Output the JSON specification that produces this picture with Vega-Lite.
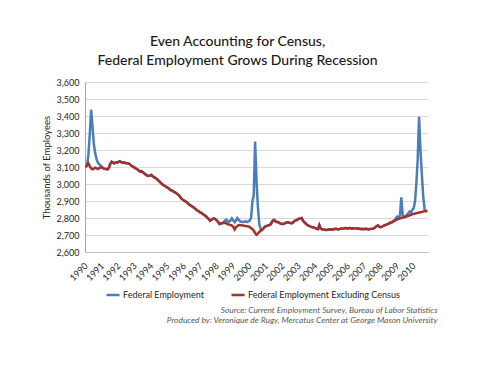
{
  "$schema": "https://vega.github.io/schema/vega-lite/v6.json",
  "width": 343,
  "height": 170,
  "autosize": {"type": "none"},
  "padding": {"left": 85, "top": 82, "right": 52, "bottom": 119},
  "background": "white",
  "config": {"font": "Lato", "view": {"stroke": null}},
  "title": {
    "text": ["Even Accounting for Census,", "Federal Employment Grows During Recession"],
    "fontSize": 14,
    "fontWeight": 500,
    "color": "#1a1a1a",
    "lineHeight": 19,
    "offset": 10,
    "anchor": "middle",
    "dx": -19
  },
  "datasets": {
    "fed": [
      {"date":"1990-01","value":3100},{"date":"1990-02","value":3115},{"date":"1990-03","value":3170},{"date":"1990-04","value":3290},{"date":"1990-05","value":3437},{"date":"1990-06","value":3340},{"date":"1990-07","value":3235},{"date":"1990-08","value":3180},{"date":"1990-09","value":3145},{"date":"1990-10","value":3125},{"date":"1990-11","value":3115},{"date":"1990-12","value":3108},
      {"date":"1991-01","value":3100},{"date":"1991-02","value":3092},{"date":"1991-03","value":3090},{"date":"1991-04","value":3088},{"date":"1991-05","value":3086},{"date":"1991-06","value":3095},{"date":"1991-07","value":3118},{"date":"1991-08","value":3131},{"date":"1991-09","value":3126},{"date":"1991-10","value":3122},{"date":"1991-11","value":3128},{"date":"1991-12","value":3126},
      {"date":"1992-01","value":3130},{"date":"1992-02","value":3134},{"date":"1992-03","value":3128},{"date":"1992-04","value":3125},{"date":"1992-05","value":3127},{"date":"1992-06","value":3123},{"date":"1992-07","value":3122},{"date":"1992-08","value":3122},{"date":"1992-09","value":3118},{"date":"1992-10","value":3110},{"date":"1992-11","value":3106},{"date":"1992-12","value":3100},
      {"date":"1993-01","value":3095},{"date":"1993-02","value":3090},{"date":"1993-03","value":3085},{"date":"1993-04","value":3078},{"date":"1993-05","value":3072},{"date":"1993-06","value":3075},{"date":"1993-07","value":3068},{"date":"1993-08","value":3062},{"date":"1993-09","value":3055},{"date":"1993-10","value":3050},{"date":"1993-11","value":3048},{"date":"1993-12","value":3050},
      {"date":"1994-01","value":3053},{"date":"1994-02","value":3046},{"date":"1994-03","value":3040},{"date":"1994-04","value":3036},{"date":"1994-05","value":3030},{"date":"1994-06","value":3022},{"date":"1994-07","value":3015},{"date":"1994-08","value":3006},{"date":"1994-09","value":2998},{"date":"1994-10","value":2993},{"date":"1994-11","value":2988},{"date":"1994-12","value":2983},
      {"date":"1995-01","value":2978},{"date":"1995-02","value":2972},{"date":"1995-03","value":2965},{"date":"1995-04","value":2962},{"date":"1995-05","value":2958},{"date":"1995-06","value":2952},{"date":"1995-07","value":2948},{"date":"1995-08","value":2942},{"date":"1995-09","value":2935},{"date":"1995-10","value":2925},{"date":"1995-11","value":2915},{"date":"1995-12","value":2908},
      {"date":"1996-01","value":2902},{"date":"1996-02","value":2898},{"date":"1996-03","value":2893},{"date":"1996-04","value":2885},{"date":"1996-05","value":2878},{"date":"1996-06","value":2873},{"date":"1996-07","value":2868},{"date":"1996-08","value":2862},{"date":"1996-09","value":2855},{"date":"1996-10","value":2849},{"date":"1996-11","value":2843},{"date":"1996-12","value":2838},
      {"date":"1997-01","value":2832},{"date":"1997-02","value":2828},{"date":"1997-03","value":2822},{"date":"1997-04","value":2816},{"date":"1997-05","value":2810},{"date":"1997-06","value":2802},{"date":"1997-07","value":2795},{"date":"1997-08","value":2784},{"date":"1997-09","value":2790},{"date":"1997-10","value":2795},{"date":"1997-11","value":2798},{"date":"1997-12","value":2792},
      {"date":"1998-01","value":2785},{"date":"1998-02","value":2775},{"date":"1998-03","value":2765},{"date":"1998-04","value":2768},{"date":"1998-05","value":2770},{"date":"1998-06","value":2775},{"date":"1998-07","value":2785},{"date":"1998-08","value":2790},{"date":"1998-09","value":2780},{"date":"1998-10","value":2778},{"date":"1998-11","value":2786},{"date":"1998-12","value":2798},
      {"date":"1999-01","value":2785},{"date":"1999-02","value":2775},{"date":"1999-03","value":2785},{"date":"1999-04","value":2800},{"date":"1999-05","value":2790},{"date":"1999-06","value":2780},{"date":"1999-07","value":2778},{"date":"1999-08","value":2776},{"date":"1999-09","value":2778},{"date":"1999-10","value":2780},{"date":"1999-11","value":2776},{"date":"1999-12","value":2780},
      {"date":"2000-01","value":2785},{"date":"2000-02","value":2800},{"date":"2000-03","value":2895},{"date":"2000-04","value":2935},{"date":"2000-05","value":3250},{"date":"2000-06","value":3020},{"date":"2000-07","value":2870},{"date":"2000-08","value":2765},{"date":"2000-09","value":2735},{"date":"2000-10","value":2729},{"date":"2000-11","value":2738},{"date":"2000-12","value":2748},
      {"date":"2001-01","value":2752},{"date":"2001-02","value":2755},{"date":"2001-03","value":2758},{"date":"2001-04","value":2760},{"date":"2001-05","value":2772},{"date":"2001-06","value":2785},{"date":"2001-07","value":2788},{"date":"2001-08","value":2780},{"date":"2001-09","value":2776},{"date":"2001-10","value":2775},{"date":"2001-11","value":2770},{"date":"2001-12","value":2766},
      {"date":"2002-01","value":2765},{"date":"2002-02","value":2766},{"date":"2002-03","value":2770},{"date":"2002-04","value":2774},{"date":"2002-05","value":2775},{"date":"2002-06","value":2772},{"date":"2002-07","value":2770},{"date":"2002-08","value":2769},{"date":"2002-09","value":2776},{"date":"2002-10","value":2784},{"date":"2002-11","value":2786},{"date":"2002-12","value":2790},
      {"date":"2003-01","value":2796},{"date":"2003-02","value":2798},{"date":"2003-03","value":2800},{"date":"2003-04","value":2785},{"date":"2003-05","value":2775},{"date":"2003-06","value":2768},{"date":"2003-07","value":2760},{"date":"2003-08","value":2755},{"date":"2003-09","value":2752},{"date":"2003-10","value":2748},{"date":"2003-11","value":2746},{"date":"2003-12","value":2745},
      {"date":"2004-01","value":2740},{"date":"2004-02","value":2736},{"date":"2004-03","value":2735},{"date":"2004-04","value":2758},{"date":"2004-05","value":2737},{"date":"2004-06","value":2733},{"date":"2004-07","value":2732},{"date":"2004-08","value":2731},{"date":"2004-09","value":2730},{"date":"2004-10","value":2731},{"date":"2004-11","value":2733},{"date":"2004-12","value":2731},
      {"date":"2005-01","value":2734},{"date":"2005-02","value":2733},{"date":"2005-03","value":2735},{"date":"2005-04","value":2736},{"date":"2005-05","value":2735},{"date":"2005-06","value":2733},{"date":"2005-07","value":2736},{"date":"2005-08","value":2738},{"date":"2005-09","value":2737},{"date":"2005-10","value":2739},{"date":"2005-11","value":2741},{"date":"2005-12","value":2740},
      {"date":"2006-01","value":2738},{"date":"2006-02","value":2741},{"date":"2006-03","value":2740},{"date":"2006-04","value":2738},{"date":"2006-05","value":2740},{"date":"2006-06","value":2739},{"date":"2006-07","value":2738},{"date":"2006-08","value":2739},{"date":"2006-09","value":2737},{"date":"2006-10","value":2735},{"date":"2006-11","value":2736},{"date":"2006-12","value":2734},
      {"date":"2007-01","value":2735},{"date":"2007-02","value":2736},{"date":"2007-03","value":2735},{"date":"2007-04","value":2733},{"date":"2007-05","value":2735},{"date":"2007-06","value":2736},{"date":"2007-07","value":2737},{"date":"2007-08","value":2740},{"date":"2007-09","value":2745},{"date":"2007-10","value":2752},{"date":"2007-11","value":2756},{"date":"2007-12","value":2748},
      {"date":"2008-01","value":2746},{"date":"2008-02","value":2750},{"date":"2008-03","value":2754},{"date":"2008-04","value":2758},{"date":"2008-05","value":2761},{"date":"2008-06","value":2764},{"date":"2008-07","value":2768},{"date":"2008-08","value":2772},{"date":"2008-09","value":2775},{"date":"2008-10","value":2782},{"date":"2008-11","value":2787},{"date":"2008-12","value":2798},
      {"date":"2009-01","value":2808},{"date":"2009-02","value":2800},{"date":"2009-03","value":2815},{"date":"2009-04","value":2922},{"date":"2009-05","value":2818},{"date":"2009-06","value":2808},{"date":"2009-07","value":2810},{"date":"2009-08","value":2818},{"date":"2009-09","value":2828},{"date":"2009-10","value":2838},{"date":"2009-11","value":2830},{"date":"2009-12","value":2848},
      {"date":"2010-01","value":2858},{"date":"2010-02","value":2900},{"date":"2010-03","value":3000},{"date":"2010-04","value":3150},{"date":"2010-05","value":3396},{"date":"2010-06","value":3200},{"date":"2010-07","value":3060},{"date":"2010-08","value":2930},{"date":"2010-09","value":2850},{"date":"2010-10","value":2842},{"date":"2010-11","value":2841}
    ],
    "excl": [
      {"date":"1990-01","value":3098},{"date":"1990-02","value":3110},{"date":"1990-03","value":3122},{"date":"1990-04","value":3105},{"date":"1990-05","value":3092},{"date":"1990-06","value":3086},{"date":"1990-07","value":3090},{"date":"1990-08","value":3096},{"date":"1990-09","value":3092},{"date":"1990-10","value":3088},{"date":"1990-11","value":3094},{"date":"1990-12","value":3098},
      {"date":"1991-01","value":3096},{"date":"1991-02","value":3092},{"date":"1991-03","value":3090},{"date":"1991-04","value":3088},{"date":"1991-05","value":3086},{"date":"1991-06","value":3095},{"date":"1991-07","value":3118},{"date":"1991-08","value":3131},{"date":"1991-09","value":3126},{"date":"1991-10","value":3122},{"date":"1991-11","value":3128},{"date":"1991-12","value":3126},
      {"date":"1992-01","value":3130},{"date":"1992-02","value":3134},{"date":"1992-03","value":3128},{"date":"1992-04","value":3125},{"date":"1992-05","value":3127},{"date":"1992-06","value":3123},{"date":"1992-07","value":3122},{"date":"1992-08","value":3122},{"date":"1992-09","value":3118},{"date":"1992-10","value":3110},{"date":"1992-11","value":3106},{"date":"1992-12","value":3100},
      {"date":"1993-01","value":3095},{"date":"1993-02","value":3090},{"date":"1993-03","value":3085},{"date":"1993-04","value":3078},{"date":"1993-05","value":3072},{"date":"1993-06","value":3075},{"date":"1993-07","value":3068},{"date":"1993-08","value":3062},{"date":"1993-09","value":3055},{"date":"1993-10","value":3050},{"date":"1993-11","value":3048},{"date":"1993-12","value":3050},
      {"date":"1994-01","value":3053},{"date":"1994-02","value":3046},{"date":"1994-03","value":3040},{"date":"1994-04","value":3036},{"date":"1994-05","value":3030},{"date":"1994-06","value":3022},{"date":"1994-07","value":3015},{"date":"1994-08","value":3006},{"date":"1994-09","value":2998},{"date":"1994-10","value":2993},{"date":"1994-11","value":2988},{"date":"1994-12","value":2983},
      {"date":"1995-01","value":2978},{"date":"1995-02","value":2972},{"date":"1995-03","value":2965},{"date":"1995-04","value":2962},{"date":"1995-05","value":2958},{"date":"1995-06","value":2952},{"date":"1995-07","value":2948},{"date":"1995-08","value":2942},{"date":"1995-09","value":2935},{"date":"1995-10","value":2925},{"date":"1995-11","value":2915},{"date":"1995-12","value":2908},
      {"date":"1996-01","value":2902},{"date":"1996-02","value":2898},{"date":"1996-03","value":2893},{"date":"1996-04","value":2885},{"date":"1996-05","value":2878},{"date":"1996-06","value":2873},{"date":"1996-07","value":2868},{"date":"1996-08","value":2862},{"date":"1996-09","value":2855},{"date":"1996-10","value":2849},{"date":"1996-11","value":2843},{"date":"1996-12","value":2838},
      {"date":"1997-01","value":2832},{"date":"1997-02","value":2828},{"date":"1997-03","value":2822},{"date":"1997-04","value":2816},{"date":"1997-05","value":2810},{"date":"1997-06","value":2802},{"date":"1997-07","value":2795},{"date":"1997-08","value":2784},{"date":"1997-09","value":2790},{"date":"1997-10","value":2795},{"date":"1997-11","value":2798},{"date":"1997-12","value":2792},
      {"date":"1998-01","value":2785},{"date":"1998-02","value":2775},{"date":"1998-03","value":2765},{"date":"1998-04","value":2768},{"date":"1998-05","value":2770},{"date":"1998-06","value":2771},{"date":"1998-07","value":2772},{"date":"1998-08","value":2768},{"date":"1998-09","value":2763},{"date":"1998-10","value":2761},{"date":"1998-11","value":2759},{"date":"1998-12","value":2755},
      {"date":"1999-01","value":2748},{"date":"1999-02","value":2733},{"date":"1999-03","value":2745},{"date":"1999-04","value":2752},{"date":"1999-05","value":2759},{"date":"1999-06","value":2758},{"date":"1999-07","value":2757},{"date":"1999-08","value":2756},{"date":"1999-09","value":2755},{"date":"1999-10","value":2753},{"date":"1999-11","value":2752},{"date":"1999-12","value":2750},
      {"date":"2000-01","value":2748},{"date":"2000-02","value":2740},{"date":"2000-03","value":2735},{"date":"2000-04","value":2725},{"date":"2000-05","value":2712},{"date":"2000-06","value":2702},{"date":"2000-07","value":2708},{"date":"2000-08","value":2718},{"date":"2000-09","value":2725},{"date":"2000-10","value":2729},{"date":"2000-11","value":2738},{"date":"2000-12","value":2748},
      {"date":"2001-01","value":2752},{"date":"2001-02","value":2755},{"date":"2001-03","value":2758},{"date":"2001-04","value":2760},{"date":"2001-05","value":2772},{"date":"2001-06","value":2785},{"date":"2001-07","value":2788},{"date":"2001-08","value":2780},{"date":"2001-09","value":2776},{"date":"2001-10","value":2775},{"date":"2001-11","value":2770},{"date":"2001-12","value":2766},
      {"date":"2002-01","value":2765},{"date":"2002-02","value":2766},{"date":"2002-03","value":2770},{"date":"2002-04","value":2774},{"date":"2002-05","value":2775},{"date":"2002-06","value":2772},{"date":"2002-07","value":2770},{"date":"2002-08","value":2769},{"date":"2002-09","value":2776},{"date":"2002-10","value":2784},{"date":"2002-11","value":2786},{"date":"2002-12","value":2790},
      {"date":"2003-01","value":2796},{"date":"2003-02","value":2798},{"date":"2003-03","value":2800},{"date":"2003-04","value":2785},{"date":"2003-05","value":2775},{"date":"2003-06","value":2768},{"date":"2003-07","value":2760},{"date":"2003-08","value":2755},{"date":"2003-09","value":2752},{"date":"2003-10","value":2748},{"date":"2003-11","value":2746},{"date":"2003-12","value":2745},
      {"date":"2004-01","value":2740},{"date":"2004-02","value":2736},{"date":"2004-03","value":2735},{"date":"2004-04","value":2758},{"date":"2004-05","value":2737},{"date":"2004-06","value":2733},{"date":"2004-07","value":2732},{"date":"2004-08","value":2731},{"date":"2004-09","value":2730},{"date":"2004-10","value":2731},{"date":"2004-11","value":2733},{"date":"2004-12","value":2731},
      {"date":"2005-01","value":2734},{"date":"2005-02","value":2733},{"date":"2005-03","value":2735},{"date":"2005-04","value":2736},{"date":"2005-05","value":2735},{"date":"2005-06","value":2733},{"date":"2005-07","value":2736},{"date":"2005-08","value":2738},{"date":"2005-09","value":2737},{"date":"2005-10","value":2739},{"date":"2005-11","value":2741},{"date":"2005-12","value":2740},
      {"date":"2006-01","value":2738},{"date":"2006-02","value":2741},{"date":"2006-03","value":2740},{"date":"2006-04","value":2738},{"date":"2006-05","value":2740},{"date":"2006-06","value":2739},{"date":"2006-07","value":2738},{"date":"2006-08","value":2739},{"date":"2006-09","value":2737},{"date":"2006-10","value":2735},{"date":"2006-11","value":2736},{"date":"2006-12","value":2734},
      {"date":"2007-01","value":2735},{"date":"2007-02","value":2736},{"date":"2007-03","value":2735},{"date":"2007-04","value":2733},{"date":"2007-05","value":2735},{"date":"2007-06","value":2736},{"date":"2007-07","value":2737},{"date":"2007-08","value":2740},{"date":"2007-09","value":2745},{"date":"2007-10","value":2752},{"date":"2007-11","value":2756},{"date":"2007-12","value":2748},
      {"date":"2008-01","value":2746},{"date":"2008-02","value":2750},{"date":"2008-03","value":2754},{"date":"2008-04","value":2758},{"date":"2008-05","value":2761},{"date":"2008-06","value":2764},{"date":"2008-07","value":2768},{"date":"2008-08","value":2772},{"date":"2008-09","value":2775},{"date":"2008-10","value":2779},{"date":"2008-11","value":2783},{"date":"2008-12","value":2788},
      {"date":"2009-01","value":2792},{"date":"2009-02","value":2795},{"date":"2009-03","value":2798},{"date":"2009-04","value":2800},{"date":"2009-05","value":2803},{"date":"2009-06","value":2805},{"date":"2009-07","value":2806},{"date":"2009-08","value":2810},{"date":"2009-09","value":2813},{"date":"2009-10","value":2815},{"date":"2009-11","value":2818},{"date":"2009-12","value":2821},
      {"date":"2010-01","value":2824},{"date":"2010-02","value":2826},{"date":"2010-03","value":2828},{"date":"2010-04","value":2830},{"date":"2010-05","value":2832},{"date":"2010-06","value":2834},{"date":"2010-07","value":2836},{"date":"2010-08","value":2838},{"date":"2010-09","value":2839},{"date":"2010-10","value":2840},{"date":"2010-11","value":2841}
    ]
  },
  "encoding": {
    "x": {
      "field": "date",
      "type": "temporal",
      "scale": {"domain": [{"year": 1989, "month": 12, "date": 16}, {"year": 2010, "month": 11, "date": 16}]},
      "axis": {
        "title": ["Source: Current Employment Survey, Bureau of Labor Statistics", "Produced by: Veronique de Rugy, Mercatus Center at George Mason University"],
        "format": "%Y",
        "tickCount": {"interval": "year", "step": 1},
        "labelAngle": -45,
        "labelAlign": "right",
        "labelBaseline": "middle",
        "labelFontSize": 9,
        "labelColor": "#262626",
        "labelPadding": 12,
        "labelOverlap": false,
        "labelFlush": false,
        "ticks": false,
        "grid": false,
        "domain": true,
        "domainColor": "#BFBFBF",
        "titleFontSize": 8.4,
        "titleFontStyle": "italic",
        "titleFontWeight": "normal",
        "titleColor": "#595959",
        "titleAlign": "right",
        "titleAnchor": "end",
        "titleX": 352,
        "titleY": 60,
        "titleBaseline": "alphabetic",
        "titleLineHeight": 10
      }
    },
    "y": {
      "field": "value",
      "type": "quantitative",
      "scale": {"domain": [2600, 3600], "nice": false, "zero": false},
      "axis": {
        "title": "Thousands of Employees",
        "values": [2600, 2700, 2800, 2900, 3000, 3100, 3200, 3300, 3400, 3500, 3600],
        "format": ",.0f",
        "labelFontSize": 9,
        "labelColor": "#262626",
        "labelPadding": 6,
        "ticks": false,
        "domain": true,
        "domainColor": "#A6A6A6",
        "grid": true,
        "gridColor": "#D9D9D9",
        "titleFontSize": 9.5,
        "titleFontWeight": "normal",
        "titleColor": "#262626",
        "titlePadding": 5
      }
    }
  },
  "layer": [
    {
      "data": {"name": "fed"},
      "mark": {"type": "line", "strokeWidth": 2.5},
      "encoding": {
        "color": {
          "datum": "Federal Employment",
          "type": "nominal",
          "scale": {"domain": ["Federal Employment", "Federal Employment Excluding Census"], "range": ["#4A7EBB", "#A3302B"]},
          "legend": {
            "orient": "none",
            "legendX": 20,
            "legendY": 205,
            "direction": "horizontal",
            "title": null,
            "symbolType": "stroke",
            "symbolSize": 169,
            "symbolStrokeWidth": 2.5,
            "labelFontSize": 9,
            "labelLimit": 300,
            "labelColor": "#262626",
            "labelOffset": 2,
            "columnPadding": 22
          }
        }
      }
    },
    {
      "data": {"name": "excl"},
      "mark": {"type": "line", "strokeWidth": 2.5},
      "encoding": {
        "color": {"datum": "Federal Employment Excluding Census", "type": "nominal"}
      }
    }
  ]
}
